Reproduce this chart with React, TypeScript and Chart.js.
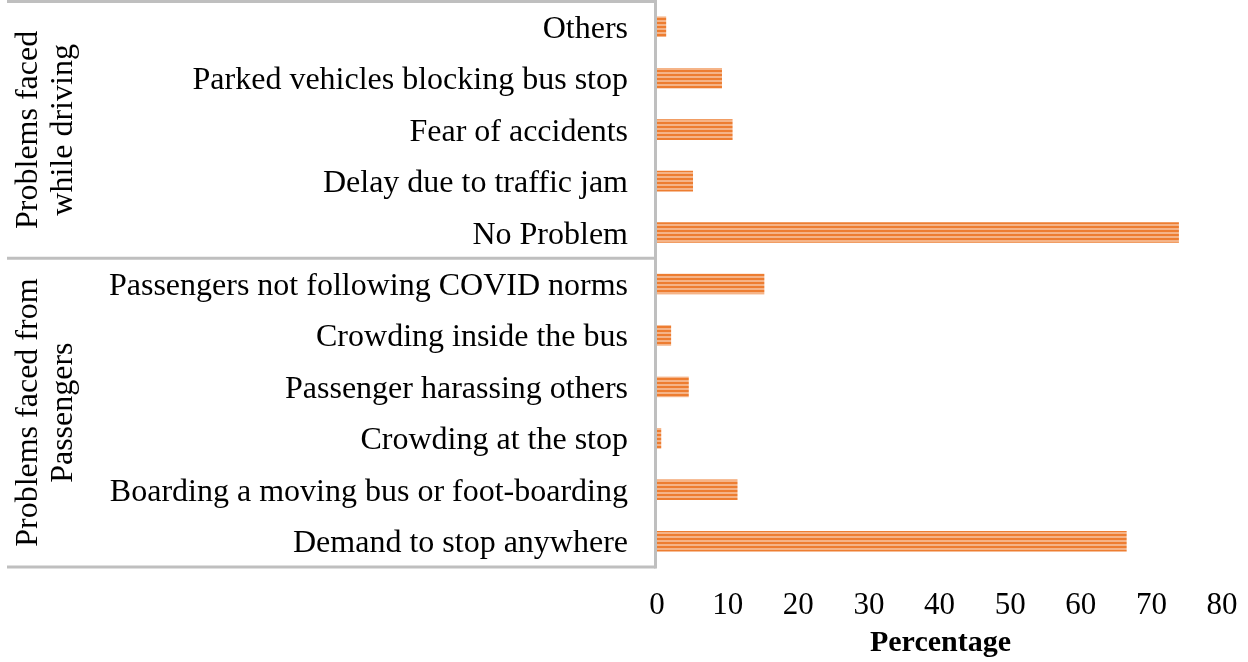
import React, { useEffect, useRef } from "react";
import { Chart, registerables } from "chart.js";

Chart.register(...registerables);

const categories = [
  "Others",
  "Parked vehicles blocking bus stop",
  "Fear of accidents",
  "Delay due to traffic jam",
  "No Problem",
  "Passengers not following COVID norms",
  "Crowding inside the bus",
  "Passenger harassing others",
  "Crowding at the stop",
  "Boarding a moving bus or foot-boarding",
  "Demand to stop anywhere",
];
const values = [1.3, 9.2, 10.7, 5.1, 73.9, 15.2, 2.0, 4.5, 0.6, 11.4, 66.5];
const groupLabels = [
  ["Problems faced", "while driving"],
  ["Problems faced from", "Passengers"],
];
const groupSizes = [5, 6];
const xTicks = [0, 10, 20, 30, 40, 50, 60, 70, 80];
const xTitle = "Percentage";

const FONT = "'Liberation Serif', 'Times New Roman', serif";
const LINE = "#bfbfbf";
const DARK = "#ED7D31";
const LIGHT = "#F5B488";

function drawText(
  ctx: CanvasRenderingContext2D,
  text: string,
  x: number,
  y: number,
  font: string,
  align: CanvasTextAlign,
  rotate = 0
) {
  ctx.save();
  ctx.translate(x, y);
  if (rotate) ctx.rotate(rotate);
  ctx.font = font;
  ctx.fillStyle = "#000";
  ctx.textAlign = align;
  ctx.textBaseline = "alphabetic";
  ctx.fillText(text, 0, 0);
  ctx.restore();
}

const labelPlugin = {
  id: "labelPlugin",
  afterDraw(chart: any) {
    const ctx: CanvasRenderingContext2D = chart.ctx;
    const xs = chart.scales.x;
    const ys = chart.scales.y;
    const area = chart.chartArea;
    const n = categories.length;
    const catH = (area.bottom - area.top) / n;

    ctx.save();
    ctx.strokeStyle = LINE;
    ctx.lineWidth = 3;
    ctx.beginPath();
    ctx.moveTo(area.left - 1.5, 0);
    ctx.lineTo(area.left - 1.5, area.bottom + 1.5);
    ctx.stroke();

    const bounds: number[] = [area.top + 0.5];
    let acc = 0;
    groupSizes.forEach((s) => {
      acc += s;
      bounds.push(area.top + acc * catH);
    });
    bounds.forEach((b) => {
      ctx.beginPath();
      ctx.moveTo(7, b);
      ctx.lineTo(area.left - 1.5, b);
      ctx.stroke();
    });
    ctx.restore();

    const catFont = `32px ${FONT}`;
    categories.forEach((c, i) => {
      const cy = ys.getPixelForValue(i);
      drawText(ctx, c, 628, cy + 11, catFont, "right");
    });

    groupLabels.forEach((lines, g) => {
      const cy = (bounds[g] + bounds[g + 1]) / 2;
      const xsPos = [37, 72];
      lines.forEach((t, k) => {
        drawText(ctx, t, xsPos[k], cy, catFont, "center", -Math.PI / 2);
      });
    });

    const tickFont = `31px ${FONT}`;
    xTicks.forEach((v) => {
      drawText(ctx, String(v), xs.getPixelForValue(v), 614, tickFont, "center");
    });
    drawText(
      ctx,
      xTitle,
      (area.left + area.right) / 2 + 1,
      651,
      `bold 30px ${FONT}`,
      "center"
    );
  },
};

export default function App() {
  const ref = useRef<HTMLCanvasElement | null>(null);
  useEffect(() => {
    const canvas = ref.current!;
    const ctx = canvas.getContext("2d")!;
    const pc = document.createElement("canvas");
    pc.width = 4;
    pc.height = 4;
    const p = pc.getContext("2d")!;
    p.fillStyle = LIGHT;
    p.fillRect(0, 0, 4, 2);
    p.fillStyle = DARK;
    p.fillRect(0, 2, 4, 2);
    const pattern = ctx.createPattern(pc, "repeat")!;

    const chart = new Chart(canvas, {
      type: "bar",
      data: {
        labels: categories,
        datasets: [
          {
            data: values,
            backgroundColor: pattern as any,
            borderWidth: 0,
            barPercentage: 0.4,
            categoryPercentage: 1,
          },
        ],
      },
      options: {
        indexAxis: "y",
        animation: false,
        responsive: false,
        layout: { padding: { left: 0, right: 26, top: 1, bottom: 0 } },
        plugins: { legend: { display: false }, tooltip: { enabled: false } },
        scales: {
          x: {
            min: 0,
            max: 80,
            ticks: { display: false, stepSize: 10 },
            grid: { display: false },
            border: { display: false },
            afterFit: (s: any) => {
              s.height = 95;
            },
          },
          y: {
            ticks: { display: false },
            grid: { display: false },
            border: { display: false },
            afterFit: (s: any) => {
              s.width = 657;
            },
          },
        },
      },
      plugins: [labelPlugin],
    });
    return () => chart.destroy();
  }, []);

  return (
    <canvas
      ref={ref}
      width={1248}
      height={662}
      style={{ position: "fixed", left: 0, top: 0, display: "block", background: "#fff" }}
    />
  );
}
